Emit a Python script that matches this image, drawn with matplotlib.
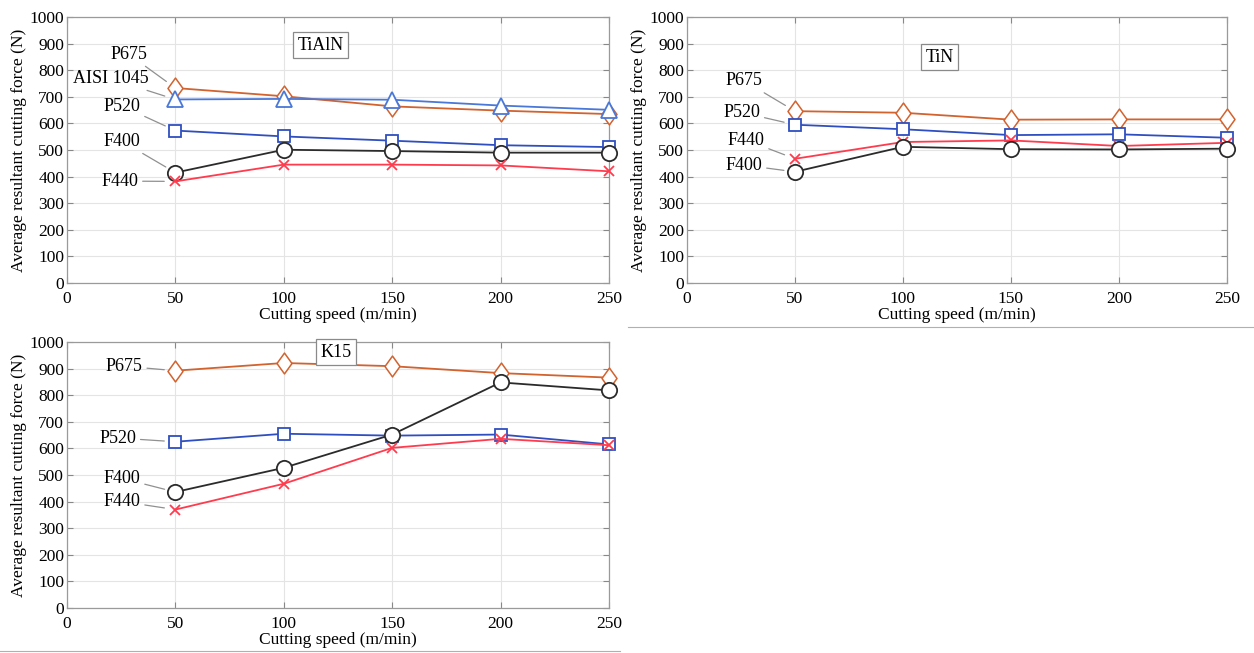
import matplotlib
matplotlib.use("Agg")
import matplotlib.pyplot as plt
from matplotlib.lines import Line2D
from matplotlib.path import Path

plt.rcParams['font.family'] = ['Liberation Serif', 'DejaVu Serif']
plt.rcParams['mathtext.fontset'] = 'stix'

# cutting speed (m/min)
speed = [50, 100, 150, 200, 250]

# TiAlN coated tool
tialn_p675 = [733, 702, 664, 648, 635]
tialn_aisi = [690, 692, 689, 667, 651]
tialn_p520 = [573, 551, 535, 518, 511]
tialn_f400 = [415, 501, 496, 490, 490]
tialn_f440 = [382, 445, 445, 442, 420]

# TiN coated tool
tin_p675 = [646, 640, 614, 615, 615]
tin_p520 = [595, 578, 556, 559, 546]
tin_f440 = [467, 530, 536, 515, 527]
tin_f400 = [418, 512, 503, 502, 505]

# K15 uncoated tool
k15_p675 = [892, 921, 909, 883, 866]
k15_p520 = [625, 655, 648, 652, 615]
k15_f400 = [436, 527, 652, 848, 818]
k15_f440 = [370, 467, 602, 636, 612]

C_P675 = '#D2622E'
C_AISI = '#4A78D8'
C_P520 = '#2F4FC0'
C_F400 = '#2B2B2B'
C_F440 = '#FF3B4E'

# MATLAB-like diamond
diamond = Path([(0, 1), (0.72, 0), (0, -1), (-0.72, 0), (0, 1)],
               [Path.MOVETO, Path.LINETO, Path.LINETO, Path.LINETO, Path.CLOSEPOLY])

styles = {
    'P675': dict(color=C_P675, marker=diamond, ms=15, mfc='white', mew=1.1),
    'AISI 1045': dict(color=C_AISI, marker='^', ms=11.5, mfc='white', mew=1.3),
    'P520': dict(color=C_P520, marker='s', ms=8.5, mfc='white', mew=1.3),
    'F400': dict(color=C_F400, marker='o', ms=11, mfc='white', mew=1.3),
    'F440': dict(color=C_F440, marker='x', ms=7.5, mew=1.3),
}

fig = plt.figure(figsize=(12.54, 6.53), dpi=100)


def setup(ax):
    ax.set_xlim(0, 250)
    ax.set_ylim(0, 1000)
    ax.set_xticks(range(0, 251, 50))
    ax.set_yticks(range(0, 1001, 100))
    ax.grid(True, color='#E4E4E4', lw=0.8)
    ax.set_axisbelow(True)
    ax.tick_params(direction='in', top=True, right=True, length=4,
                   color='#888888', labelsize=12.5, pad=2)
    ax.tick_params(axis='x', pad=6)
    for s in ax.spines.values():
        s.set_color('#9A9A9A')
        s.set_linewidth(0.9)
    ax.set_xlabel('Cutting speed (m/min)', fontsize=12.5, labelpad=0)
    ax.set_ylabel('Average resultant cutting force (N)', fontsize=12.5, labelpad=2)


def draw(ax, series, labels, box):
    for name, vals in series:
        st = dict(styles[name])
        ax.plot(speed, vals, lw=1.3, zorder=3, clip_on=False, **st)
    for name, vals, tx, ty in labels:
        ax.annotate(name, xy=(speed[0], vals[0]), xytext=(tx, ty),
                    ha='right', va='center', fontsize=13,
                    arrowprops=dict(arrowstyle='-', color='#909090', lw=0.9,
                                    shrinkA=1, shrinkB=8))
    bx, by, btxt = box
    ax.text(bx, by, btxt, ha='center', va='center', fontsize=13,
            bbox=dict(boxstyle='square,pad=0.25', fc='white', ec='#8A8A8A', lw=0.9))


ax1 = fig.add_axes([0.0534, 0.5666, 0.4322, 0.4074])
setup(ax1)
draw(ax1,
     [('P675', tialn_p675), ('AISI 1045', tialn_aisi), ('P520', tialn_p520),
      ('F400', tialn_f400), ('F440', tialn_f440)],
     [('P675', tialn_p675, 37, 860), ('AISI 1045', tialn_aisi, 37.5, 768),
      ('P520', tialn_p520, 34, 665), ('F400', tialn_f400, 34, 532),
      ('F440', tialn_f440, 33, 383)],
     (117, 893, 'TiAlN'))

ax2 = fig.add_axes([0.5478, 0.5666, 0.4306, 0.4074])
setup(ax2)
draw(ax2,
     [('P675', tin_p675), ('P520', tin_p520), ('F440', tin_f440), ('F400', tin_f400)],
     [('P675', tin_p675, 35, 760), ('P520', tin_p520, 34, 641),
      ('F440', tin_f440, 36, 537), ('F400', tin_f400, 35, 443)],
     (117, 848, 'TiN'))

ax3 = fig.add_axes([0.0534, 0.0689, 0.4322, 0.4074])
setup(ax3)
draw(ax3,
     [('P675', k15_p675), ('P520', k15_p520), ('F400', k15_f400), ('F440', k15_f440)],
     [('P675', k15_p675, 35, 909), ('P520', k15_p520, 32, 639),
      ('F400', k15_f400, 34, 487), ('F440', k15_f440, 34, 400)],
     (124, 962, 'K15'))

# separator lines under the image panels
fig.add_artist(Line2D([628 / 1254, 1.0], [1 - 327 / 653] * 2, color='#B0B0B0', lw=0.8))
fig.add_artist(Line2D([0.0, 620 / 1254], [1 - 651 / 653] * 2, color='#B0B0B0', lw=0.8))

fig.savefig('out.png', dpi=100)
